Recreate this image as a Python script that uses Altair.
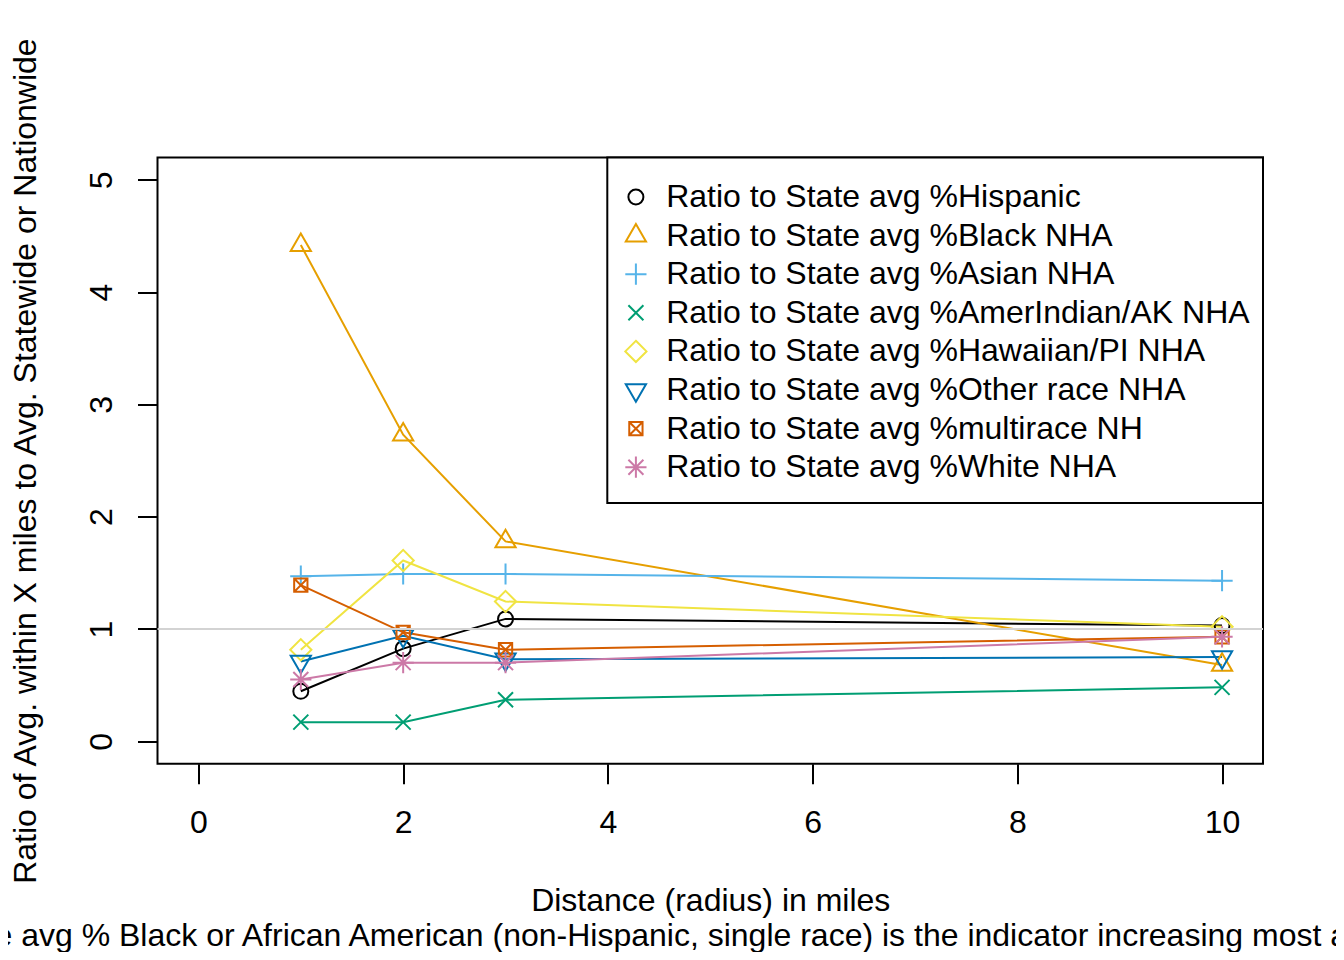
import altair as alt
import pandas as pd

# ---- data ----
distance = [1, 2, 3, 10]

series_names = [
    "Ratio to State avg %Hispanic",
    "Ratio to State avg %Black NHA",
    "Ratio to State avg %Asian NHA",
    "Ratio to State avg %AmerIndian/AK NHA",
    "Ratio to State avg %Hawaiian/PI NHA",
    "Ratio to State avg %Other race NHA",
    "Ratio to State avg %multirace NH",
    "Ratio to State avg %White NHA",
]

hispanic = [0.445, 0.825, 1.09, 1.03]
black = [4.42, 2.73, 1.78, 0.68]
asian = [1.47, 1.49, 1.49, 1.43]
amerindian = [0.17, 0.17, 0.37, 0.48]
hawaiian = [0.815, 1.61, 1.245, 1.02]
other_race = [0.71, 0.94, 0.73, 0.75]
multirace = [1.39, 0.97, 0.815, 0.93]
white = [0.55, 0.70, 0.70, 0.93]

series_values = [hispanic, black, asian, amerindian, hawaiian, other_race, multirace, white]

colors = ["#000000", "#E69F00", "#56B4E9", "#009E73",
          "#F0E442", "#0072B2", "#D55E00", "#CC79A7"]

# R-style plotting symbols (pch 1..8) as paths
shapes = [
    "circle",
    "M0,-1.555L1.347,0.778L-1.347,0.778Z",
    "M-1.414,0L1.414,0M0,-1.414L0,1.414",
    "M-1,-1L1,1M-1,1L1,-1",
    "M0,-1.414L1.414,0L0,1.414L-1.414,0Z",
    "M0,1.555L1.347,-0.778L-1.347,-0.778Z",
    "M-0.886,-0.886L0.886,-0.886L0.886,0.886L-0.886,0.886ZM-0.886,-0.886L0.886,0.886M-0.886,0.886L0.886,-0.886",
    "M-1,-1L1,1M-1,1L1,-1M-1.414,0L1.414,0M0,-1.414L0,1.414",
]

x_ticks = [0, 2, 4, 6, 8, 10]
y_ticks = [0, 1, 2, 3, 4, 5]

x_title = "Distance (radius) in miles"
y_title = "Ratio of Avg. within X miles to Avg. Statewide or Nationwide"
subtitle = "e avg % Black or African American (non-Hispanic, single race) is the indicator increasing most a"

rows = []
for name, vals in zip(series_names, series_values):
    for d, v in zip(distance, vals):
        rows.append({"series": name, "distance": d, "ratio": v})
df = pd.DataFrame(rows)
one = pd.DataFrame({"k": [0]})

W = 1105.5
H = 606.2
FONT = "Liberation Sans"

xenc = alt.X(
    "distance:Q",
    scale=alt.Scale(domain=[-0.4, 10.4], nice=False, zero=False),
    axis=alt.Axis(
        values=x_ticks, format="d", domain=False, grid=False, tickSize=20, tickWidth=2,
        tickColor="black", labelFontSize=32, labelColor="black", labelPadding=24,
        labelOverlap=False, labelFlush=False, labelFont=FONT,
        title=x_title, titleFontSize=32, titleFontWeight="normal", titleColor="black",
        titleFont=FONT, titleX=W / 2, titleY=146.5, titleAlign="center",
        titleBaseline="alphabetic",
    ),
)
yenc = alt.Y(
    "ratio:Q",
    scale=alt.Scale(domain=[-0.2, 5.2], nice=False, zero=False),
    axis=alt.Axis(
        values=y_ticks, format="d", domain=False, grid=False, tickSize=20, tickWidth=2,
        tickColor="black", labelFontSize=32, labelColor="black", labelPadding=26,
        labelAngle=270, labelAlign="center", labelBaseline="alphabetic",
        labelOverlap=False, labelFlush=False, labelFont=FONT,
        title=y_title, titleFontSize=32, titleFontWeight="normal", titleColor="black",
        titleFont=FONT, titleX=-122.5, titleY=H / 2, titleAngle=270,
        titleAlign="center", titleBaseline="alphabetic",
    ),
)

leg = alt.Legend(
    orient="none", legendX=462.4, legendY=23.5, title=None,
    labelFontSize=32, labelFont=FONT, labelColor="black", labelLimit=2000,
    labelOffset=14.3, rowPadding=6.6, padding=0, symbolSize=225,
    symbolStrokeWidth=2, zindex=5,
)

color_scale = alt.Scale(domain=series_names, range=colors)
shape_scale = alt.Scale(domain=series_names, range=shapes)

legend_box = alt.Chart(one).mark_rect(fill="white", stroke="black", strokeWidth=2).encode(
    x=alt.value(449.8), x2=alt.value(W), y=alt.value(0), y2=alt.value(345.5)
)

lines = alt.Chart(df).mark_line(strokeWidth=2).encode(
    x=xenc, y=yenc,
    color=alt.Color("series:N", scale=color_scale, legend=leg),
    order=alt.Order("distance:Q"),
)

points = alt.Chart(df).mark_point(filled=False, size=225, strokeWidth=2, opacity=1).encode(
    x=xenc, y=yenc,
    color=alt.Color("series:N", scale=color_scale, legend=leg),
    shape=alt.Shape("series:N", scale=shape_scale, legend=leg),
)

ref_line = alt.Chart(one).mark_rule(color="#D3D3D3", strokeWidth=2).encode(y=alt.datum(1))

sub = alt.Chart(one).mark_text(
    text=subtitle, align="left", baseline="alphabetic", fontSize=32, font=FONT, color="black"
).encode(x=alt.value(-163), y=alt.value(788.5))

chart = alt.layer(legend_box, lines, points, ref_line, sub).properties(
    width=W, height=H,
    autosize=alt.AutoSizeParams(type="none"),
    padding={"left": 149.5, "top": 149.5, "right": 73, "bottom": 188.3},
).configure(font=FONT).configure_view(stroke="black", strokeWidth=2)

chart.save("out.html", embed_options={"renderer": "svg", "actions": False})
